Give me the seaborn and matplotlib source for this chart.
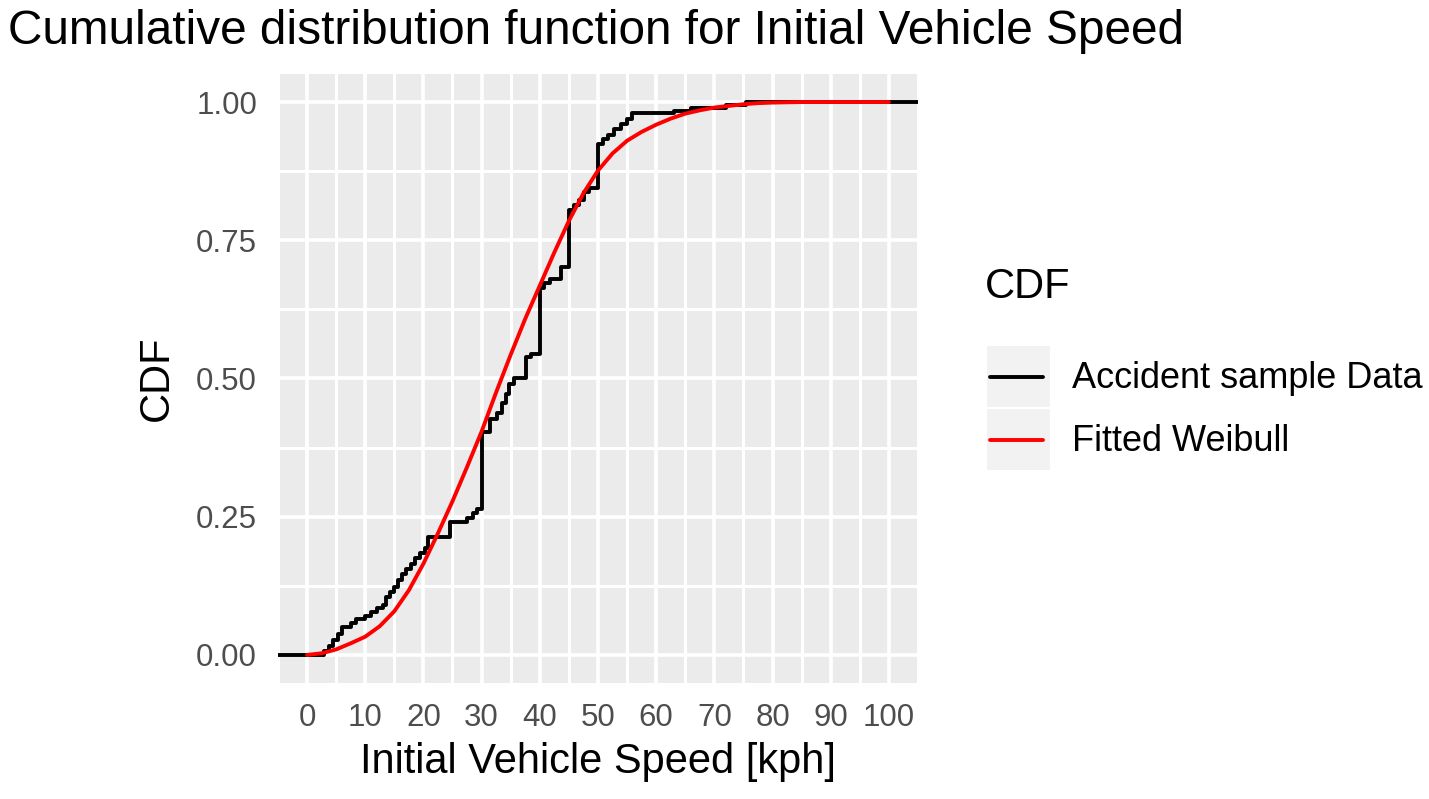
import numpy as np
import matplotlib
matplotlib.use("Agg")
import matplotlib.pyplot as plt
from matplotlib.patches import Rectangle
from matplotlib.lines import Line2D
from matplotlib.legend_handler import HandlerBase
import seaborn as sns

# ── Data ─────────────────────────────────────────────────────────────────────
# empirical CDF of the accident sample: speed of each step and level reached
sample_speed = [3.0, 3.8, 4.5, 5.3, 6.0, 7.5, 8.5, 10.0, 11.0, 12.0, 13.0,
                13.6, 14.3, 15.0, 15.6, 16.3, 17.0, 17.8, 18.6, 19.5, 20.2,
                20.8, 24.5, 27.5, 28.5, 29.2, 30.0, 31.5, 32.7, 33.5, 34.2,
                34.7, 35.5, 37.6, 38.5, 40.0, 40.8, 41.8, 43.6, 45.0, 45.8,
                46.7, 47.6, 48.5, 50.0, 50.8, 51.7, 52.8, 54.0, 55.0, 55.8,
                63.0, 66.0, 72.0, 75.5]
sample_cdf = [0.008, 0.017, 0.027, 0.038, 0.051, 0.058, 0.065, 0.071, 0.078,
              0.084, 0.090, 0.104, 0.114, 0.122, 0.136, 0.146, 0.155, 0.165,
              0.175, 0.185, 0.193, 0.214, 0.240, 0.248, 0.257, 0.264, 0.404,
              0.426, 0.437, 0.455, 0.472, 0.490, 0.500, 0.538, 0.544, 0.663,
              0.672, 0.680, 0.702, 0.805, 0.814, 0.823, 0.838, 0.845, 0.925,
              0.934, 0.941, 0.952, 0.961, 0.970, 0.980, 0.984, 0.990, 0.994,
              1.000]

# fitted Weibull curve (red), sampled every 2.5 kph
weibull_speed = [0, 2.5, 5, 7.5, 10, 12.5, 15, 17.5, 20, 22.5, 25, 27.5, 30,
                 32.5, 35, 37.5, 40, 42.5, 45, 47.5, 50, 52.5, 55, 57.5, 60,
                 62.5, 65, 67.5, 70, 72.5, 75, 77.5, 80, 85, 90, 95, 100]
weibull_cdf = [0.000, 0.003, 0.010, 0.021, 0.033, 0.052, 0.079, 0.117, 0.165,
               0.220, 0.278, 0.340, 0.404, 0.475, 0.543, 0.608, 0.668, 0.728,
               0.785, 0.835, 0.876, 0.907, 0.930, 0.946, 0.959, 0.970, 0.979,
               0.985, 0.990, 0.993, 0.996, 0.998, 0.999, 1.000, 1.000, 1.000,
               1.000]

x_ticks = list(range(0, 101, 10))
y_ticks = [0.00, 0.25, 0.50, 0.75, 1.00]
x_limits = (-5, 105)
y_limits = (-0.05, 1.05)

# ── Style (ggplot-like grey panel) ───────────────────────────────────────────
sns.set_theme(style="darkgrid")
plt.rcParams["font.family"] = ["Liberation Sans", "DejaVu Sans"]
plt.rcParams["text.color"] = "black"

fig = plt.figure(figsize=(14.29, 7.99), dpi=100)
ax = fig.add_axes([0.1945, 0.1457, 0.4479, 0.7612])
ax.set_facecolor("#EBEBEB")
for s in ax.spines.values():
    s.set_visible(False)

# ── Curves ───────────────────────────────────────────────────────────────────
LW = 2.8
steps = np.diff(np.r_[0.0, sample_cdf])
sns.ecdfplot(x=sample_speed, weights=steps, color="black", lw=LW, ax=ax)
# ggplot's stat_ecdf runs the steps out to both panel edges
ax.hlines(0.0, x_limits[0], min(sample_speed), color="black", lw=LW)
ax.hlines(sample_cdf[-1], max(sample_speed), x_limits[1], color="black", lw=LW)
sns.lineplot(x=weibull_speed, y=weibull_cdf, color="red", lw=LW, ax=ax)

# ── Axes ─────────────────────────────────────────────────────────────────────
ax.set_xticks(x_ticks)
ax.set_xticks(np.arange(-5, 106, 10), minor=True)
ax.set_yticks(y_ticks)
ax.set_yticks(np.arange(-0.125, 1.126, 0.25), minor=True)
ax.set_yticklabels([f"{v:.2f}" for v in y_ticks])
ax.set_xlim(*x_limits)
ax.set_ylim(*y_limits)
ax.grid(which="major", color="white", lw=2.6)
ax.grid(which="minor", color="white", lw=2.2)
ax.tick_params(which="major", length=9, width=1.6, color="#333333",
               labelcolor="#4D4D4D", labelsize=22.5, pad=6)
ax.tick_params(which="minor", length=0)
ax.set_xlabel("Initial Vehicle Speed [kph]", fontsize=30, color="black",
              labelpad=6)
ax.set_ylabel("CDF", fontsize=30, color="black", labelpad=14)

fig.text(8 / 1429, 1 - 32 / 799,
         "Cumulative distribution function for Initial Vehicle Speed",
         fontsize=34.4, ha="left", va="center")


# ── Legend with grey key boxes ───────────────────────────────────────────────
class KeyHandler(HandlerBase):
    """grey key square with the line across its middle, like ggplot"""
    def create_artists(self, legend, orig_handle, xdescent, ydescent,
                       width, height, fontsize, trans):
        x0, y0 = -xdescent, -ydescent
        gap = 0.02 * height
        bg = Rectangle((x0, y0 + gap), width, height - 2 * gap,
                       facecolor="#F2F2F2", edgecolor="none", transform=trans)
        ym = y0 + height / 2
        ln = Line2D([x0 + 0.04 * width, x0 + 0.88 * width], [ym, ym],
                    color=orig_handle.get_color(),
                    lw=orig_handle.get_linewidth(), transform=trans)
        return [bg, ln]


fig.text(985 / 1429, 1 - 287 / 799, "CDF", fontsize=30, ha="left", va="center")
handles = [Line2D([], [], color="black", lw=LW), Line2D([], [], color="red", lw=LW)]
fig.legend(handles, ["Accident sample Data", "Fitted Weibull"],
           handler_map={Line2D: KeyHandler()},
           loc="upper left", bbox_to_anchor=(987 / 1429, 1 - 345 / 799),
           frameon=False, fontsize=26, handlelength=1.75, handleheight=2.31,
           labelspacing=0.0, handletextpad=0.6, borderpad=0, borderaxespad=0)

fig.savefig("out.png", dpi=100)
